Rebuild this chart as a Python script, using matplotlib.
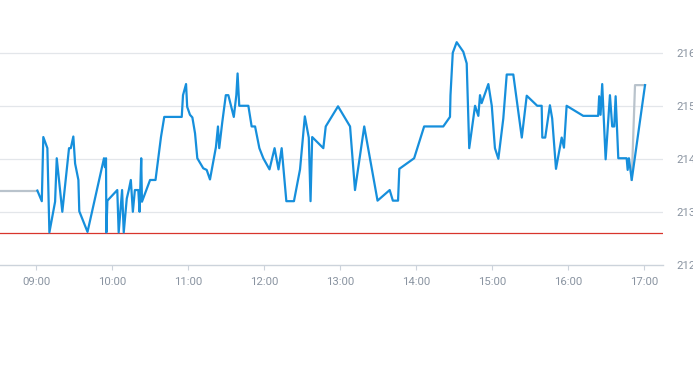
import matplotlib
matplotlib.use("Agg")
import matplotlib.pyplot as plt
import matplotlib.dates as mdates
import pandas as pd

DAY = "2024-01-02 "

# Intraday price series (blue)
price_times = [
    "09:00:48", "09:04:18", "09:05:30", "09:08:42", "09:10:18", "09:14:48", "09:16:06", "09:20:30",
    "09:25:48", "09:27:12", "09:29:12", "09:30:36", "09:33:12", "09:33:54", "09:40:24", "09:53:24",
    "09:54:12", "09:55:00", "09:55:18", "09:56:06", "10:03:54", "10:05:00", "10:07:42", "10:09:00",
    "10:11:24", "10:12:54", "10:14:36", "10:16:12", "10:17:48", "10:20:30", "10:21:30", "10:22:48",
    "10:23:24", "10:29:48", "10:34:06", "10:36:18", "10:38:24", "10:41:00", "10:54:48", "10:55:48",
    "10:58:12", "10:59:06", "11:01:18", "11:03:12", "11:05:18", "11:07:06", "11:11:48", "11:14:30",
    "11:17:06", "11:21:48", "11:23:24", "11:24:24", "11:26:48", "11:29:36", "11:31:36", "11:35:54",
    "11:37:54", "11:38:54", "11:40:12", "11:47:24", "11:50:00", "11:52:42", "11:56:06", "11:59:12",
    "12:04:06", "12:08:06", "12:11:12", "12:13:42", "12:17:24", "12:23:24", "12:28:12", "12:32:00",
    "12:35:06", "12:36:30", "12:37:48", "12:46:36", "12:48:30", "12:58:12", "13:07:42", "13:11:36",
    "13:18:54", "13:29:24", "13:39:00", "13:41:30", "13:45:36", "13:46:36", "13:58:18", "14:06:12",
    "14:21:18", "14:26:36", "14:27:00", "14:28:48", "14:31:54", "14:37:06", "14:39:48", "14:41:48",
    "14:46:24", "14:49:00", "14:50:18", "14:51:36", "14:56:54", "14:59:36", "15:02:06", "15:04:48",
    "15:08:42", "15:11:24", "15:16:36", "15:23:18", "15:27:12", "15:35:30", "15:39:00", "15:39:30",
    "15:41:48", "15:45:30", "15:47:18", "15:50:18", "15:54:48", "15:56:36", "15:58:42", "16:11:48",
    "16:23:36", "16:24:24", "16:25:30", "16:26:48", "16:29:30", "16:32:54", "16:34:42", "16:36:18",
    "16:37:24", "16:39:30", "16:46:06", "16:46:54", "16:47:54", "16:50:06", "17:00:36",
]
price_values = [
    213.41, 213.21, 214.42, 214.21, 212.62, 213.20, 214.02, 213.01,
    214.21, 214.21, 214.43, 213.92, 213.61, 213.02, 212.63, 214.02,
    213.85, 214.02, 212.62, 213.22, 213.42, 212.62, 213.42, 212.62,
    213.26, 213.41, 213.61, 213.01, 213.42, 213.42, 213.01, 214.02,
    213.20, 213.61, 213.61, 214.02, 214.42, 214.80, 214.80, 215.21,
    215.42, 214.99, 214.84, 214.79, 214.49, 214.02, 213.83, 213.80,
    213.62, 214.23, 214.62, 214.21, 214.70, 215.21, 215.21, 214.80,
    215.21, 215.62, 215.01, 215.01, 214.62, 214.62, 214.21, 214.02,
    213.81, 214.21, 213.81, 214.21, 213.21, 213.21, 213.81, 214.81,
    214.41, 213.21, 214.42, 214.21, 214.62, 215.00, 214.62, 213.42,
    214.62, 213.22, 213.42, 213.22, 213.22, 213.82, 214.02, 214.62,
    214.62, 214.80, 215.21, 216.01, 216.21, 216.03, 215.81, 214.21,
    215.01, 214.82, 215.21, 215.06, 215.42, 215.01, 214.21, 214.01,
    214.77, 215.60, 215.60, 214.41, 215.20, 215.01, 215.01, 214.41,
    214.41, 215.02, 214.77, 213.82, 214.41, 214.22, 215.01, 214.82,
    214.82, 215.19, 214.84, 215.42, 214.00, 215.21, 214.62, 214.62,
    215.19, 214.02, 214.02, 213.80, 214.02, 213.61, 215.40,
]

# Out-of-session segments (grey)
pre_times = ["08:31:18", "09:00:48"]
pre_values = [213.41, 213.41]
post_times = ["16:50:06", "16:52:42", "17:00:36"]
post_values = [213.61, 215.40, 215.40]

# Reference level (red)
ref_level = 212.61

x_ticks = ["09:00", "10:00", "11:00", "12:00", "13:00", "14:00", "15:00", "16:00", "17:00"]
y_ticks = [212, 213, 214, 215, 216]
x_range = ["08:31:18", "17:14:48"]
y_range = [212, 216.44]


def ts(lst):
    return pd.to_datetime([DAY + t for t in lst])


W, H = 693, 365
fig = plt.figure(figsize=(W / 100, H / 100), dpi=100)
ax_left, ax_right = 0 / W, 663 / W
ax_bottom = (H - 265.3) / H
ax_top = (H - 30) / H
ax = fig.add_axes([ax_left, ax_bottom, ax_right - ax_left, ax_top - ax_bottom])

tick_color = "#8a94a1"
font = ["Roboto", "DejaVu Sans"]

ax.set_xlim(ts(x_range))
ax.set_ylim(*y_range)

for yv in y_ticks[1:]:
    ax.axhline(yv, color="#e3e6ea", lw=0.9, zorder=0)

ax.axhline(ref_level, color="#d8352c", lw=0.9, zorder=2)

ax.plot(ts(pre_times), pre_values, color="#b9c3cc", lw=1.6, zorder=3, solid_joinstyle="round")
ax.plot(ts(post_times), post_values, color="#b9c3cc", lw=1.6, zorder=3, solid_joinstyle="round")
ax.plot(ts(price_times), price_values, color="#168fdc", lw=1.6, zorder=4, solid_joinstyle="round")

for s in ["top", "left", "right"]:
    ax.spines[s].set_visible(False)
ax.spines["bottom"].set_color("#ccd3db")
ax.spines["bottom"].set_linewidth(1.0)

ax.set_xticks(ts(x_ticks))
ax.xaxis.set_major_formatter(mdates.DateFormatter("%H:%M"))
ax.tick_params(axis="x", length=3.5, width=0.8, color="#ccd3db", colors=tick_color,
               labelsize=8.2, pad=5)
ax.tick_params(axis="x", which="both", color="#ccd3db")

ax.yaxis.tick_right()
ax.set_yticks(y_ticks)
ax.set_yticklabels([str(v) for v in y_ticks])
ax.tick_params(axis="y", length=0, colors=tick_color, labelsize=8.2, pad=9.5)

for lab in ax.get_xticklabels() + ax.get_yticklabels():
    lab.set_family(font)

fig.savefig("out.png", dpi=100)
